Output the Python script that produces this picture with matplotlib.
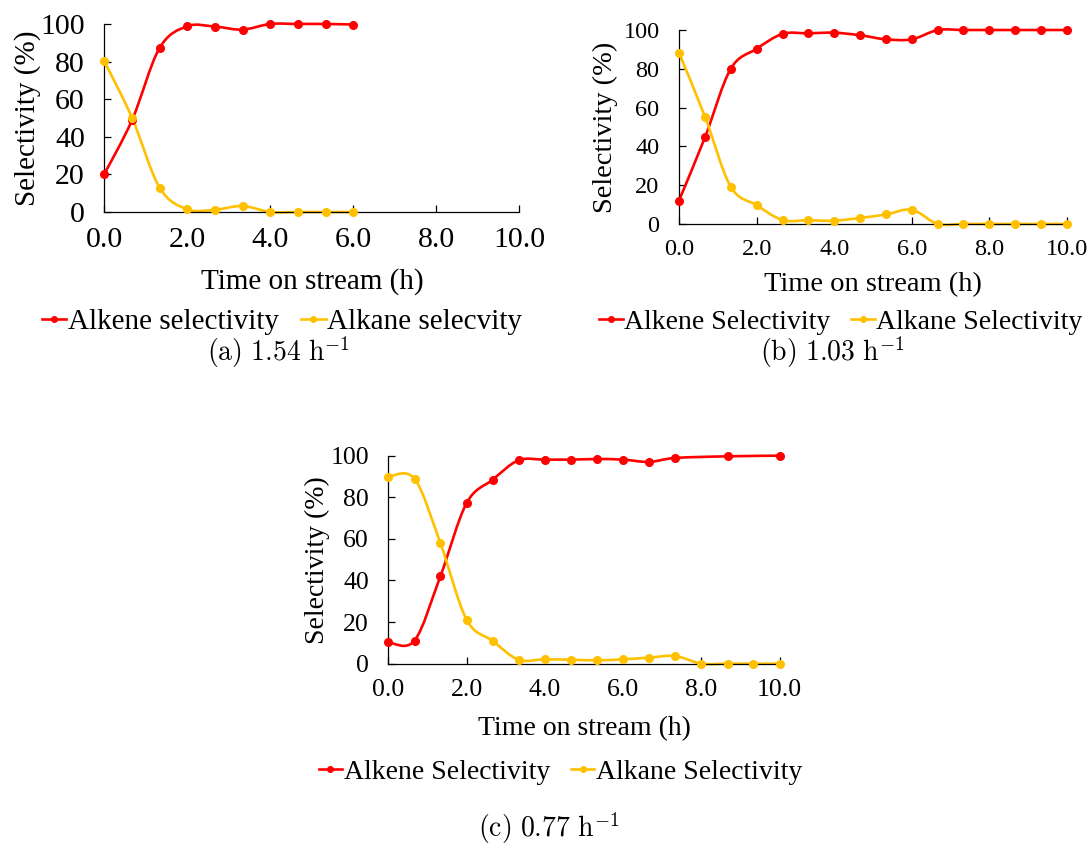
"""
Alkene / alkane selectivity vs time on stream at three space velocities
(1.54, 1.03 and 0.77 h^-1), drawn Excel-style with smoothed lines.
"""

import numpy as np

import matplotlib
matplotlib.use("Agg")
import matplotlib.pyplot as plt
from matplotlib.path import Path
from matplotlib.patches import PathPatch
from matplotlib.lines import Line2D


# ---- data ----
T_A = [0.0, 0.67, 1.33, 2.0, 2.67, 3.33, 4.0, 4.67, 5.33, 6.0]
ALKENE_A = [20.2, 49.0, 87.2, 98.8, 98.6, 97.0, 100.0, 100.0, 100.0, 99.7]
ALKANE_A = [80.1, 50.0, 13.0, 1.4, 1.2, 3.2, 0.0, 0.0, 0.0, 0.0]

T_B = [0.0, 0.67, 1.33, 2.0, 2.67, 3.33, 4.0, 4.67, 5.33, 6.0,
       6.67, 7.33, 8.0, 8.67, 9.33, 10.0]
ALKENE_B = [12.1, 44.7, 79.9, 90.3, 98.0, 98.3, 98.6, 97.3, 95.2, 95.2,
            100.0, 100.0, 100.0, 100.0, 100.0, 100.0]
ALKANE_B = [88.2, 55.3, 19.3, 9.7, 2.0, 1.9, 1.7, 3.1, 4.9, 7.3,
            0.0, 0.0, 0.0, 0.0, 0.0, 0.0]

T_C_ALKENE = [0.0, 0.67, 1.33, 2.0, 2.67, 3.33, 4.0, 4.67, 5.33, 6.0,
              6.67, 7.33, 8.67, 10.0]
ALKENE_C = [10.3, 11.1, 42.0, 77.2, 88.5, 97.8, 98.1, 98.1, 98.4, 98.1,
            97.0, 98.9, 99.7, 100.0]
T_C_ALKANE = [0.0, 0.67, 1.33, 2.0, 2.67, 3.33, 4.0, 4.67, 5.33, 6.0,
              6.67, 7.33, 8.0, 8.67, 9.33, 10.0]
ALKANE_C = [89.9, 88.9, 58.0, 21.2, 10.9, 1.9, 2.1, 1.9, 1.6, 2.1,
            2.9, 3.7, 0.0, 0.0, 0.0, 0.0]

X_TICKS = [0, 2, 4, 6, 8, 10]
Y_TICKS = [0, 20, 40, 60, 80, 100]

RED = "#ff0000"
GOLD = "#ffc000"

plt.rcParams["font.family"] = ["Liberation Serif", "DejaVu Serif"]
plt.rcParams["mathtext.fontset"] = "cm"


def smooth_path(x, y):
    # Excel-like smoothed line: cubic Bezier segments, Catmull-Rom control points
    pts = np.column_stack([x, y]).astype(float)
    n = len(pts)
    verts, codes = [pts[0]], [Path.MOVETO]
    for i in range(n - 1):
        prev = pts[max(i - 1, 0)]
        nxt = pts[min(i + 2, n - 1)]
        c1 = pts[i] + (pts[i + 1] - prev) / 6.0
        c2 = pts[i + 1] - (nxt - pts[i]) / 6.0
        verts += [c1, c2, pts[i + 1]]
        codes += [Path.CURVE4] * 3
    return Path(verts, codes)


def draw_series(ax, x, y, color):
    ax.add_patch(PathPatch(smooth_path(x, y), fill=False, edgecolor=color,
                           lw=1.9, clip_on=False, capstyle="round",
                           joinstyle="round", zorder=2))
    ax.plot(x, y, ls="none", marker="o", ms=5.5, color=color,
            clip_on=False, zorder=3)


def setup_panel(fig, rect, tick_fs, label_fs, xlab_y, ylab_x):
    ax = fig.add_axes(rect)
    ax.set_xlim(0, 10)
    ax.set_ylim(0, 100)
    ax.set_xticks(X_TICKS)
    ax.set_xticklabels([f"{v:.1f}" for v in X_TICKS])
    ax.set_yticks(Y_TICKS)
    ax.set_yticklabels([str(v) for v in Y_TICKS])
    ax.spines["top"].set_visible(False)
    ax.spines["right"].set_visible(False)
    for s in ("left", "bottom"):
        ax.spines[s].set_linewidth(0.9)
    ax.tick_params(direction="in", length=5, width=0.9, labelsize=tick_fs)
    ax.tick_params(axis="y", pad=14)
    ax.tick_params(axis="x", pad=11)
    ax.text(0.5, xlab_y, "Time on stream (h)", transform=ax.transAxes,
            ha="center", va="center", fontsize=label_fs)
    ax.text(ylab_x, 0.5, "Selectivity (%)", transform=ax.transAxes,
            ha="center", va="center", rotation=90, fontsize=label_fs)
    return ax


def legend(fig, x, y, labels, fs):
    handles = [Line2D([], [], color=RED, lw=1.9, marker="o", ms=4),
               Line2D([], [], color=GOLD, lw=1.9, marker="o", ms=4)]
    fig.legend(handles, labels, loc="center", bbox_to_anchor=(x, y), ncol=2,
               frameon=False, fontsize=fs, handlelength=0.85,
               handletextpad=0.05, columnspacing=0.75, borderpad=0)


def main():
    fig = plt.figure(figsize=(10.88, 8.5), dpi=100)

    # ---- (a) 1.54 h-1 ----
    ax = setup_panel(fig, [0.0959, 0.7506, 0.3814, 0.2212], 21.5, 21, -0.372, -0.185)
    draw_series(ax, T_A, ALKENE_A, RED)
    draw_series(ax, T_A, ALKANE_A, GOLD)
    legend(fig, 0.259, 0.621, ["Alkene selectivity", "Alkane selecvity"], 21)
    fig.text(0.256, 0.586, r"$\mathrm{(a)\ 1.54\ h^{-1}}$", ha="center",
             va="center", fontsize=20)

    # ---- (b) 1.03 h-1 ----
    ax = setup_panel(fig, [0.6241, 0.7365, 0.3566, 0.2282], 17.5, 20.5, -0.314, -0.19)
    draw_series(ax, T_B, ALKENE_B, RED)
    draw_series(ax, T_B, ALKANE_B, GOLD)
    legend(fig, 0.773, 0.621, ["Alkene Selectivity", "Alkane Selectivity"], 20)
    fig.text(0.765, 0.586, r"$\mathrm{(b)\ 1.03\ h^{-1}}$", ha="center",
             va="center", fontsize=20)

    # ---- (c) 0.77 h-1 ----
    ax = setup_panel(fig, [0.3569, 0.2192, 0.3597, 0.2447], 18.5, 20, -0.314, -0.18)
    draw_series(ax, T_C_ALKENE, ALKENE_C, RED)
    draw_series(ax, T_C_ALKANE, ALKANE_C, GOLD)
    legend(fig, 0.515, 0.092, ["Alkene Selectivity", "Alkane Selectivity"], 20)
    fig.text(0.504, 0.026, r"$\mathrm{(c)\ 0.77\ h^{-1}}$", ha="center",
             va="center", fontsize=20)

    fig.savefig("out.png", dpi=100)
    plt.close(fig)


if __name__ == "__main__":
    main()
